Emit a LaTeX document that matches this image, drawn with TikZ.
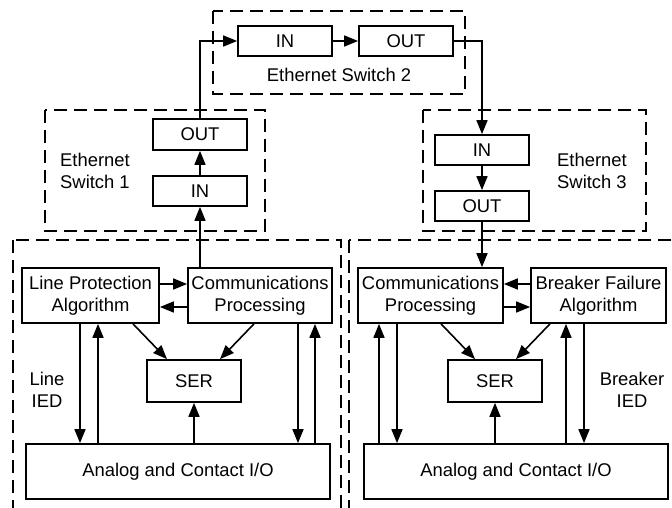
\documentclass[tikz,border=0pt]{standalone}
\usepackage{fontspec}
\setmainfont{Liberation Sans}
\usetikzlibrary{arrows.meta,calc}
\begin{document}
\begin{tikzpicture}[x=1pt,y=-1pt,
  txt/.style={font=\fontsize{18.4}{22.5}\selectfont},
  box/.style={txt,draw,line width=1.7pt,inner sep=0pt,align=center},
  lbl/.style={txt,inner sep=0pt},
  grp/.style={draw,dash pattern=on 13pt off 7pt,line width=1.7pt},
  arr/.style={line width=1.6pt,-{Triangle[length=14pt,width=11pt]}},
]
\fill[white] (0,0) rectangle (672,508);
\useasboundingbox (0,0) rectangle (672,508);

% group frames
\draw[grp] (213,11) rectangle (465,94);
\draw[grp] (45,110) rectangle (265,231);
\draw[grp] (423,110) rectangle (646,231);
\begin{scope}
\clip (0,0) rectangle (672,508);
\draw[grp] (13,240) rectangle (341,530);
\draw[grp] (349,240) rectangle (700,530);
\end{scope}

% switches
\node[box,minimum width=94pt,minimum height=30pt] (IN2) at (285,41) {IN};
\node[box,minimum width=94pt,minimum height=30pt] (OUT2) at (406,41) {OUT};
\node[box,minimum width=94pt,minimum height=31pt] (OUT1) at (200,134.5) {OUT};
\node[box,minimum width=94pt,minimum height=30pt] (IN1) at (200,191) {IN};
\node[box,minimum width=94pt,minimum height=30pt] (IN3) at (482,150) {IN};
\node[box,minimum width=94pt,minimum height=30pt] (OUT3) at (482,206) {OUT};

% left IED
\node[box,minimum width=137pt,minimum height=55pt] (LP) at (90.5,295.5) {Line Protection\\Algorithm};
\node[box,minimum width=144pt,minimum height=55pt] (CPL) at (260,295.5) {Communications\\Processing};
\node[box,minimum width=94pt,minimum height=42pt] (SERL) at (194,381) {SER};
\node[box,minimum width=304pt,minimum height=55pt] (ALL) at (178,471.5) {Analog and Contact I/O};

% right IED
\node[box,minimum width=145pt,minimum height=55pt] (CPR) at (430.5,295.5) {Communications\\Processing};
\node[box,minimum width=135pt,minimum height=55pt] (BF) at (598.5,295.5) {Breaker Failure\\Algorithm};
\node[box,minimum width=94pt,minimum height=42pt] (SERR) at (495,381) {SER};
\node[box,minimum width=304pt,minimum height=55pt] (ALR) at (516,471.5) {Analog and Contact I/O};

% labels
\node[lbl] (sw2lbl) at (339,75) {Ethernet Switch 2};
\node[lbl,anchor=west,align=left] (sw1lbl) at (60,171) {Ethernet\\Switch 1};
\node[lbl,anchor=west,align=left] (sw3lbl) at (557,171) {Ethernet\\Switch 3};
\node[lbl,align=center] (lied) at (47,390) {Line\\IED};
\node[lbl,align=center] (bied) at (632,390) {Breaker\\IED};

% network arrows
\draw[arr] (CPL.north -| IN1.south) -- (IN1.south);
\draw[arr] (IN1.north) -- (OUT1.south);
\draw[arr] (OUT1.north) |- (IN2.west);
\draw[arr] (IN2.east) -- (OUT2.west);
\draw[arr] (OUT2.east) -| (IN3.north);
\draw[arr] (IN3.south) -- (OUT3.north);
\draw[arr] (OUT3.south) -- (OUT3.south |- CPR.north);

% left IED arrows
\draw[arr] ([yshift=11.5pt]LP.east) -- ([yshift=11.5pt]CPL.west);
\draw[arr] ([yshift=-11.5pt]CPL.west) -- ([yshift=-11.5pt]LP.east);
\coordinate (l1) at ($(LP.south)+(-10.5,0)$);
\coordinate (l2) at ($(LP.south)+(7.5,0)$);
\coordinate (l3) at ($(CPL.south)+(38,0)$);
\coordinate (l4) at ($(CPL.south)+(55,0)$);
\draw[arr] (l1) -- (l1 |- ALL.north);
\draw[arr] (l2 |- ALL.north) -- (l2);
\draw[arr] (l3) -- (l3 |- ALL.north);
\draw[arr] (l4 |- ALL.north) -- (l4);
\draw[arr] (SERL.south |- ALL.north) -- (SERL.south);
\draw[arr] ($(LP.south)+(42.5,0)$) -- ($(SERL.north)+(-27,0)$);
\draw[arr] ($(CPL.south)+(-6,0)$) -- ($(SERL.north)+(26,0)$);

% right IED arrows
\draw[arr] ([yshift=11.5pt]BF.west) -- ([yshift=11.5pt]CPR.east);
\draw[arr] ([yshift=-11.5pt]CPR.east) -- ([yshift=-11.5pt]BF.west);
\coordinate (r1) at ($(CPR.south)+(-51.5,0)$);
\coordinate (r2) at ($(CPR.south)+(-33.5,0)$);
\coordinate (r3) at ($(BF.south)+(-32.5,0)$);
\coordinate (r4) at ($(BF.south)+(-14.5,0)$);
\draw[arr] (r1 |- ALR.north) -- (r1);
\draw[arr] (r2) -- (r2 |- ALR.north);
\draw[arr] (r3 |- ALR.north) -- (r3);
\draw[arr] (r4) -- (r4 |- ALR.north);
\draw[arr] (SERR.south |- ALR.north) -- (SERR.south);
\draw[arr] ($(CPR.south)+(10.5,0)$) -- ($(SERR.north)+(-20,0)$);
\draw[arr] ($(BF.south)+(-48.5,0)$) -- ($(SERR.north)+(21,0)$);
\end{tikzpicture}
\end{document}
